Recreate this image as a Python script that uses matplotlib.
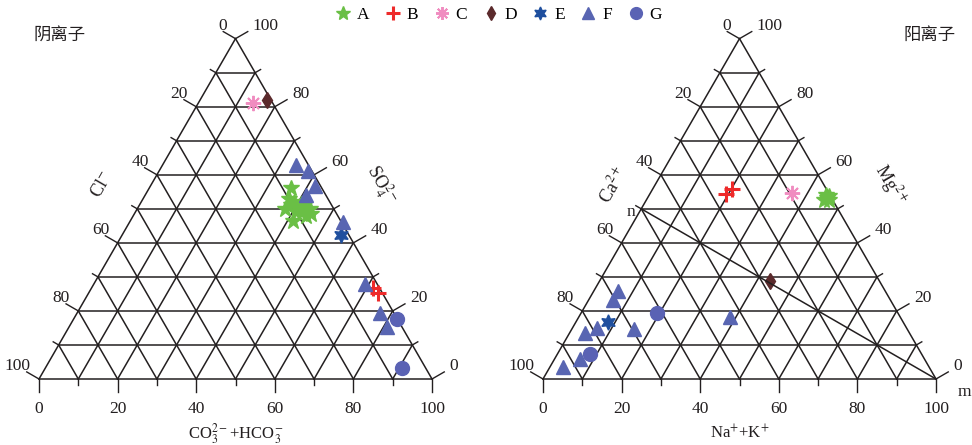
import numpy as np
import matplotlib.pyplot as plt

plt.rcParams['font.family'] = ['Liberation Serif', 'Noto Sans CJK SC']
plt.rcParams['mathtext.fontset'] = 'stix'

groups = ['A', 'B', 'C', 'D', 'E', 'F', 'G']
colors = ['#6abf45', '#ee2a2a', '#f08cc0', '#5b2a2c', '#1f4f9e', '#5865b2', '#5a62b4']

# anion triangle: CO3+HCO3 (bottom axis) and SO4 (right axis), Cl = rest
an_group = ['A'] * 14 + ['B'] * 2 + ['C', 'D', 'E'] + ['F'] * 8 + ['G'] * 2
an_co3 = [36, 37, 39, 41, 42, 44, 45, 42.5, 41, 37.5, 41.5, 40.5, 44, 38.5,
          71.7, 73.6, 14, 17, 55.6,
          34, 38, 42, 41, 54.3, 69, 77, 81, 82.4, 90.8]
an_so4 = [56, 53, 52, 51.5, 51, 50, 48.5, 49, 49, 50, 46.5, 50.5, 48, 51,
          26.6, 25.4, 81, 82, 42.4,
          63, 61, 56.7, 54, 46.2, 28, 19.3, 15.2, 17.5, 3.2]

# cation triangle: Na+K (bottom axis) and Mg (right axis), Ca = rest
ca_group = ['A'] * 5 + ['B'] * 2 + ['C', 'D', 'E'] + ['F'] * 8 + ['G'] * 2
ca_na = [45.7, 45.0, 46.5, 45.2, 46.0, 19.4, 20.2, 36, 43.3, 8.2,
         6.1, 6.3, 6.3, 4.0, 15.9, 38.5, 6.5, 3.3, 19.4, 8.3]
ca_mg = [53.2, 54.0, 52.5, 52.6, 53.8, 54.4, 55.8, 54.7, 28.9, 16.7,
         26.0, 23.1, 14.9, 13.5, 14.6, 18.1, 5.8, 3.5, 19.3, 7.3]

markers = {'A': dict(marker='*', ms=12),
           'B': dict(marker='+', ms=12, mew=2.2),
           'C': dict(marker=(8, 2, 0), ms=11, mew=1.4),
           'D': dict(marker='d', ms=8),
           'E': dict(marker=(6, 1, 0), ms=11),
           'F': dict(marker='^', ms=10),
           'G': dict(marker='o', ms=10)}

H = np.sqrt(3) / 2
ink = '#231f20'


def tern(b, t):
    b = np.asarray(b, float)
    t = np.asarray(t, float)
    return b + t / 2, t * H


def frame(ax):
    for k in range(0, 101, 10):
        x, y = tern([0, 100 - k], [k, k])
        ax.plot(x, y, color=ink, lw=1.1)
        x, y = tern([k, k], [0, 100 - k])
        ax.plot(x, y, color=ink, lw=1.1)
        x, y = tern([100 - k, 0], [0, 100 - k])
        ax.plot(x, y, color=ink, lw=1.1)
    ul = np.array([-0.866, 0.5])
    ur = np.array([0.866, 0.5])
    for k in range(0, 101, 10):
        major = k % 20 == 0
        L = 3.6 if major else 1.6
        # left edge: value k at apex->bottom-left
        p = np.array(tern(0, 100 - k))
        e = p + L * ul
        ax.plot([p[0], e[0]], [p[1], e[1]], color=ink, lw=1.0)
        if major:
            ax.text(e[0] + 1.0, e[1] - 0.6, str(k), ha='right', va='bottom',
                    fontsize=12.5, color=ink)
        # right edge: value k at bottom-right->apex
        p = np.array(tern(100 - k, k))
        e = p + L * ur
        ax.plot([p[0], e[0]], [p[1], e[1]], color=ink, lw=1.0)
        if major:
            ax.text(e[0] + 1.3, e[1] - 0.6, str(k), ha='left', va='bottom',
                    fontsize=12.5, color=ink)
        # bottom
        Lb = 3.3 if major else 1.6
        ax.plot([k, k], [0, -Lb], color=ink, lw=1.0)
        if major:
            ax.text(k, -7.6, str(k), ha='center', va='center',
                    fontsize=12.5, color=ink)


fig = plt.figure(figsize=(9.72, 4.45), dpi=100)
axL = fig.add_axes([0, 0, 0.5, 1])
axR = fig.add_axes([0.5, 0, 0.5, 1])
s = 3.93
axL.set_xlim(-39 / s, (486 - 39) / s)
axR.set_xlim(-57 / s, (486 - 57) / s)
for ax in (axL, axR):
    ax.set_ylim(-66 / s, (445 - 66) / s)
    ax.axis('off')
    frame(ax)

an_group = np.array(an_group)
ca_group = np.array(ca_group)
an_co3 = np.array(an_co3)
an_so4 = np.array(an_so4)
ca_na = np.array(ca_na)
ca_mg = np.array(ca_mg)

handles = []
for g, c in zip(groups, colors):
    m = an_group == g
    x, y = tern(an_co3[m], an_so4[m])
    h, = axL.plot(x, y, ls='none', color=c, mec=c, mfc=c, label=g, **markers[g])
    handles.append(h)
    m = ca_group == g
    x, y = tern(ca_na[m], ca_mg[m])
    axR.plot(x, y, ls='none', color=c, mec=c, mfc=c, **markers[g])

# n-m line on cation triangle
xn, yn = tern([0, 100], [50, 0])
axR.plot(xn, yn, color=ink, lw=1.1)
axR.text(xn[0] - 1.5, yn[0] - 0.8, 'n', ha='right', va='center', fontsize=12.5, color=ink)
axR.text(105.5, -3.4, 'm', ha='left', va='center', fontsize=12.5, color=ink)

# axis titles
axL.text(16.0, 49.4, r'Cl$^{-}$', rotation=60, ha='center', va='center',
         fontsize=13, color=ink)
axL.text(87.0, 49.4, r'SO$_4^{2-}$', rotation=-60, ha='center', va='center',
         fontsize=13, color=ink)
axL.text(50, -13.9, r'CO$_3^{2-}$+HCO$_3^{-}$', ha='center', va='center',
         fontsize=12, color=ink)
axR.text(17.8, 49.4, r'Ca$^{2+}$', rotation=60, ha='center', va='center',
         fontsize=13, color=ink)
axR.text(88.3, 49.4, r'Mg$^{2+}$', rotation=-60, ha='center', va='center',
         fontsize=13, color=ink)
axR.text(50, -13.9, r'Na$^{+}$+K$^{+}$', ha='center', va='center',
         fontsize=12, color=ink)

fig.text(60 / 972, 1 - 35 / 445, '阴离子', ha='center', va='center',
         fontsize=12.5, color=ink, family=['Noto Sans CJK SC'])
fig.text(930 / 972, 1 - 35 / 445, '阳离子', ha='center', va='center',
         fontsize=12.5, color=ink, family=['Noto Sans CJK SC'])

fig.legend(handles=handles, loc='center', bbox_to_anchor=(498 / 972, 1 - 15 / 445),
           ncol=7, frameon=False, fontsize=12.5, handletextpad=0.3,
           columnspacing=0.85, handlelength=1.0, markerscale=0.85,
           borderaxespad=0)

fig.savefig('out.png', dpi=100)
